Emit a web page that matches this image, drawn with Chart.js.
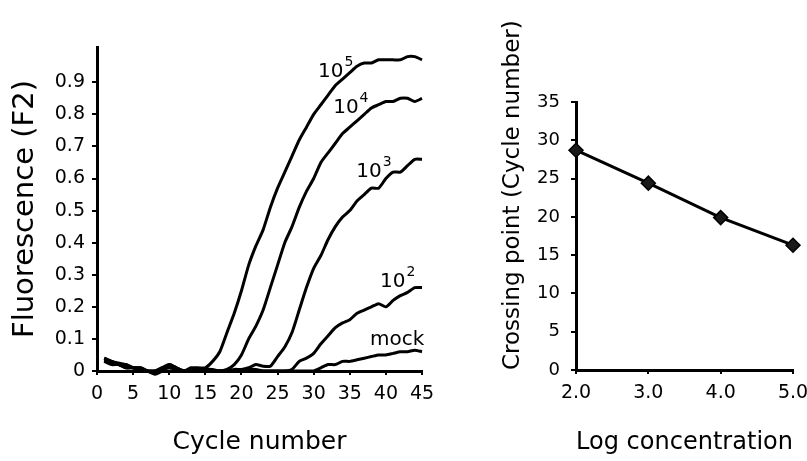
<!DOCTYPE html>
<html>
<head>
<meta charset="utf-8">
<script src="https://cdn.jsdelivr.net/npm/chart.js@4.4.0/dist/chart.umd.min.js"></script>
<style>
  html, body { margin: 0; padding: 0; background: #fff; }
  body { width: 807px; height: 461px; position: relative; overflow: hidden; }
  #amp-chart { position: absolute; left: 0; top: 0; }
  #std-chart { position: absolute; left: 480px; top: 0; }
</style>
</head>
<body>
<canvas id="amp-chart" width="440" height="461"></canvas>
<canvas id="std-chart" width="327" height="461"></canvas>
<script>
// --- Amplification curves (left panel) ---
const cycles = [1, 2, 3, 4, 5, 6, 7, 8, 9, 10, 11, 12, 13, 14, 15, 16, 17, 18, 19, 20, 21, 22, 23,
                24, 25, 26, 27, 28, 29, 30, 31, 32, 33, 34, 35, 36, 37, 38, 39, 40, 41, 42, 43, 44, 45];

const fluor1e5 = [0.040, 0.030, 0.020, 0.020, 0.010, 0.010, 0.000, -0.005, 0.010, 0.020, 0.010, 0.000, 0.010, 0.010, 0.010,
                  0.030, 0.060, 0.120, 0.180, 0.250, 0.330, 0.390, 0.440, 0.510, 0.570, 0.620, 0.670, 0.720, 0.760, 0.800,
                  0.830, 0.860, 0.890, 0.910, 0.930, 0.950, 0.960, 0.960, 0.970, 0.970, 0.970, 0.970, 0.980, 0.980, 0.970];
const fluor1e4 = [0.030, 0.030, 0.020, 0.010, 0.010, 0.000, 0.000, 0.000, 0.005, 0.010, 0.005, 0.000, 0.000, 0.000, 0.005,
                  0.005, 0.000, 0.005, 0.020, 0.050, 0.100, 0.140, 0.190, 0.260, 0.330, 0.400, 0.450, 0.510, 0.560, 0.600,
                  0.650, 0.680, 0.710, 0.740, 0.760, 0.780, 0.800, 0.820, 0.830, 0.840, 0.840, 0.850, 0.850, 0.840, 0.850];
const fluor1e3 = [0.035, 0.025, 0.020, 0.015, 0.010, 0.005, 0.000, 0.000, 0.010, 0.015, 0.005, 0.000, 0.000, 0.005, 0.005,
                  0.000, 0.000, 0.000, 0.005, 0.005, 0.010, 0.020, 0.015, 0.015, 0.045, 0.075, 0.120, 0.190, 0.260, 0.320,
                  0.360, 0.410, 0.450, 0.480, 0.500, 0.530, 0.550, 0.570, 0.570, 0.600, 0.620, 0.620, 0.640, 0.660, 0.660];
const fluor1e2 = [0.030, 0.020, 0.020, 0.010, 0.010, 0.005, 0.000, -0.005, 0.005, 0.010, 0.005, 0.000, 0.000, 0.000, 0.000,
                  0.000, 0.000, 0.000, 0.000, 0.000, 0.005, 0.005, 0.000, 0.000, 0.000, 0.000, 0.005, 0.030, 0.040, 0.055,
                  0.085, 0.110, 0.135, 0.150, 0.160, 0.180, 0.190, 0.200, 0.210, 0.200, 0.220, 0.235, 0.245, 0.260, 0.260];
const fluorMock = [0.040, 0.030, 0.025, 0.020, 0.010, 0.010, 0.000, -0.010, 0.000, 0.020, 0.010, 0.000, 0.000, 0.000, 0.000,
                   0.000, 0.000, 0.000, 0.000, 0.000, 0.000, 0.000, 0.000, 0.000, 0.000, 0.000, 0.000, 0.000, 0.000, 0.000,
                   0.010, 0.020, 0.020, 0.030, 0.030, 0.035, 0.040, 0.045, 0.050, 0.050, 0.055, 0.060, 0.060, 0.065, 0.060];

const seriesNames = ['10^5', '10^4', '10^3', '10^2', 'mock'];
const seriesValues = [fluor1e5, fluor1e4, fluor1e3, fluor1e2, fluorMock];

// curve label text, split into base + superscript
const labelBase = ['10', '10', '10', '10', 'mock'];
const labelExp = ['5', '4', '3', '2', ''];

const cycleTicks = [0, 5, 10, 15, 20, 25, 30, 35, 40, 45];
const fluorTicks = [0, 0.1, 0.2, 0.3, 0.4, 0.5, 0.6, 0.7, 0.8, 0.9];
const fluorTickLabels = ['0', '0.1', '0.2', '0.3', '0.4', '0.5', '0.6', '0.7', '0.8', '0.9'];

// --- Standard curve (right panel) ---
const logConc = [2.0, 3.0, 4.0, 5.0];
const crossingPoint = [28.7, 24.4, 19.9, 16.3];
const concTicks = [2, 3, 4, 5];
const concTickLabels = ['2.0', '3.0', '4.0', '5.0'];
const crossTicks = [0, 5, 10, 15, 20, 25, 30, 35];

// where each curve label sits, in data units (cycle, fluorescence)
const labelAnchors = [
    { x: 30.6, y: 0.916 },
    { x: 32.7, y: 0.804 },
    { x: 35.9, y: 0.604 },
    { x: 39.2, y: 0.262 },
    { x: 37.8, y: 0.081 },
];

Chart.defaults.font.family = '"DejaVu Sans", sans-serif';
Chart.defaults.color = '#000';

const FONT = '"DejaVu Sans", sans-serif';

// draws the "10^n" / "mock" tags next to the curves
const curveLabelPlugin = {
    id: 'curveLabels',
    afterDatasetsDraw(chart) {
        const { ctx, scales: { x, y } } = chart;
        ctx.save();
        ctx.fillStyle = '#000';
        ctx.textAlign = 'left';
        ctx.textBaseline = 'alphabetic';
        labelBase.forEach((base, i) => {
            const px = x.getPixelForValue(labelAnchors[i].x);
            const py = y.getPixelForValue(labelAnchors[i].y);
            ctx.font = `20px ${FONT}`;
            ctx.fillText(base, px, py);
            if (labelExp[i]) {
                const w = ctx.measureText(base).width;
                ctx.font = `14px ${FONT}`;
                ctx.fillText(labelExp[i], px + w + 1, py - 11);
            }
        });
        ctx.restore();
    }
};

function axisStyle(tickLength) {
    return {
        border: { display: true, color: '#000', width: 3 },
        grid: { display: true, drawOnChartArea: false, drawTicks: true, tickLength: tickLength, color: '#000', lineWidth: 2 },
    };
}

new Chart(document.getElementById('amp-chart'), {
    type: 'line',
    data: {
        datasets: seriesNames.map((name, i) => ({
            label: name,
            data: cycles.map((c, j) => ({ x: c, y: seriesValues[i][j] })),
            borderColor: '#000',
            borderWidth: 3,
            pointRadius: 0,
            tension: 0.2,
            fill: false,
            clip: false,
        }))
    },
    options: {
        responsive: false, animation: false, devicePixelRatio: 1,
        layout: { padding: { left: 0, top: 47, right: 18, bottom: 0 } },
        plugins: { legend: { display: false }, tooltip: { enabled: false } },
        scales: {
            x: {
                type: 'linear', min: 0, max: 45,
                ...axisStyle(4),
                afterBuildTicks: s => { s.ticks = cycleTicks.map(v => ({ value: v })); },
                afterFit: s => { s.height = 90; s.paddingLeft = 0; s.paddingRight = 0; },
                ticks: { font: { size: 19 }, padding: 8, maxRotation: 0, autoSkip: false, callback: (v, i) => String(cycleTicks[i]) },
                title: { display: true, text: 'Cycle number', font: { size: 25 }, padding: { top: 0, bottom: 4 } },
            },
            y: {
                type: 'linear', min: 0, max: 1.01,
                ...axisStyle(5),
                afterBuildTicks: s => { s.ticks = fluorTicks.map(v => ({ value: v })); },
                afterFit: s => { s.width = 97; },
                ticks: { font: { size: 19 }, padding: 7, autoSkip: false, callback: (v, i) => fluorTickLabels[i] },
                title: { display: true, text: 'Fluorescence (F2)', font: { size: 29 }, padding: { top: 8, bottom: 0 } },
            }
        }
    },
    plugins: [curveLabelPlugin]
});

new Chart(document.getElementById('std-chart'), {
    type: 'line',
    data: {
        datasets: [{
            label: 'Crossing point',
            data: logConc.map((c, i) => ({ x: c, y: crossingPoint[i] })),
            borderColor: '#000',
            borderWidth: 3,
            pointStyle: 'rectRot',
            pointRadius: 7,
            pointBackgroundColor: '#1a1a1a',
            pointBorderColor: '#000',
            pointBorderWidth: 1.5,
            tension: 0,
            clip: false,
        }]
    },
    options: {
        responsive: false, animation: false, devicePixelRatio: 1,
        layout: { padding: { left: 0, top: 102, right: 14, bottom: 0 } },
        plugins: { legend: { display: false }, tooltip: { enabled: false } },
        scales: {
            x: {
                type: 'linear', min: 2, max: 5,
                ...axisStyle(4),
                afterBuildTicks: s => { s.ticks = concTicks.map(v => ({ value: v })); },
                afterFit: s => { s.height = 91; s.paddingLeft = 0; s.paddingRight = 0; },
                ticks: { font: { size: 19 }, padding: 8, maxRotation: 0, autoSkip: false, callback: (v, i) => concTickLabels[i] },
                title: { display: true, text: 'Log concentration', font: { size: 25 }, padding: { top: 0, bottom: 4 } },
            },
            y: {
                type: 'linear', min: 0, max: 35,
                ...axisStyle(5),
                afterBuildTicks: s => { s.ticks = crossTicks.map(v => ({ value: v })); },
                afterFit: s => { s.width = 96; },
                ticks: { font: { size: 18 }, padding: 11, autoSkip: false, callback: (v, i) => String(crossTicks[i]) },
                title: { display: true, text: 'Crossing point (Cycle number)', align: 'start', font: { size: 23 }, padding: { top: 19, bottom: 0 } },
            }
        }
    }
});
</script>
</body>
</html>
